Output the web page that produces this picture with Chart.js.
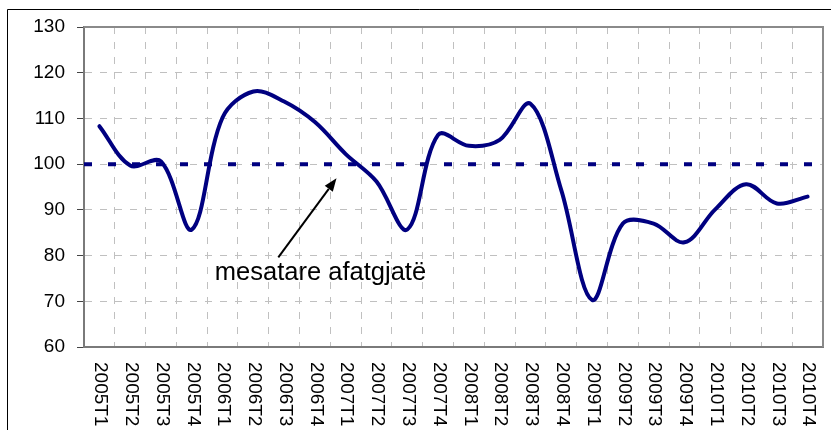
<!DOCTYPE html>
<html>
<head>
<meta charset="utf-8">
<script src="https://cdn.jsdelivr.net/npm/chart.js@4/dist/chart.umd.min.js"></script>
<style>
html,body{margin:0;padding:0;background:#fff;}
canvas{display:block;}
</style>
</head>
<body>
<canvas id="c" width="831" height="430"></canvas>
<script>
// ---- data ----
const quarters = ['2005T1','2005T2','2005T3','2005T4','2006T1','2006T2','2006T3','2006T4',
                  '2007T1','2007T2','2007T3','2007T4','2008T1','2008T2','2008T3','2008T4',
                  '2009T1','2009T2','2009T3','2009T4','2010T1','2010T2','2010T3','2010T4'];
const indexValues = [108.3, 99.7, 100.6, 85.7, 110.2, 115.9, 113.7, 109.2,
                     102.2, 96.2, 85.7, 106.4, 104.0, 105.3, 113.2, 94.3,
                     70.3, 87.0, 87.0, 82.9, 90.1, 95.6, 91.4, 92.9];
const longRunAverage = [100, 100];
const yTickValues = [60, 70, 80, 90, 100, 110, 120, 130];
const annotationLabel = 'mesatare afatgjatë';
// annotation anchor points in data units (quarter units on the x axis, index on y)
const arrowTail = {x: 6.31, y: 79.6};
const arrowTip = {x: 8.2, y: 96.9};
const labelAnchor = {x: 4.25, y: 74.65};

const FONT = '"Liberation Sans", Arial, sans-serif';

const decor = {
  id: 'decor',
  beforeDraw(chart) {
    const ctx = chart.ctx;
    ctx.save();
    ctx.fillStyle = '#fff';
    ctx.fillRect(0, 0, chart.width, chart.height);
    ctx.strokeStyle = '#000';
    ctx.lineWidth = 1;
    ctx.beginPath();
    ctx.moveTo(7.5, chart.height);
    ctx.lineTo(7.5, 9.5);
    ctx.lineTo(chart.width, 9.5);
    ctx.stroke();
    ctx.restore();
  },
  afterDraw(chart) {
    const ctx = chart.ctx;
    const a = chart.chartArea;
    const xs = chart.scales.x;
    const x2 = chart.scales.x2;
    const ys = chart.scales.y;
    ctx.save();
    // plot border (top & right)
    ctx.strokeStyle = '#8a8a8a';
    ctx.lineWidth = 2;
    ctx.beginPath();
    ctx.moveTo(a.left, a.top);
    ctx.lineTo(a.right, a.top);
    ctx.lineTo(a.right, a.bottom);
    ctx.stroke();
    // x labels, rotated clockwise (read top to bottom)
    ctx.fillStyle = '#000';
    ctx.font = '19px ' + FONT;
    ctx.textAlign = 'left';
    ctx.textBaseline = 'middle';
    quarters.forEach((q, i) => {
      const px = xs.getPixelForValue(i) + 1;
      ctx.save();
      ctx.translate(px, a.bottom + 15);
      ctx.rotate(Math.PI / 2);
      ctx.fillText(q, 0, 0);
      ctx.restore();
    });
    // annotation arrow
    const tx = x2.getPixelForValue(arrowTail.x), ty = ys.getPixelForValue(arrowTail.y);
    const hx = x2.getPixelForValue(arrowTip.x), hy = ys.getPixelForValue(arrowTip.y);
    const ang = Math.atan2(hy - ty, hx - tx);
    const headLen = 13, headW = 5;
    const bx = hx - headLen * Math.cos(ang), by = hy - headLen * Math.sin(ang);
    ctx.strokeStyle = '#000';
    ctx.lineWidth = 2;
    ctx.beginPath();
    ctx.moveTo(tx, ty);
    ctx.lineTo(bx, by);
    ctx.stroke();
    ctx.beginPath();
    ctx.moveTo(hx, hy);
    ctx.lineTo(bx + headW * Math.sin(ang), by - headW * Math.cos(ang));
    ctx.lineTo(bx - headW * Math.sin(ang), by + headW * Math.cos(ang));
    ctx.closePath();
    ctx.fill();
    // annotation text
    ctx.font = '25.5px ' + FONT;
    ctx.textAlign = 'left';
    ctx.textBaseline = 'alphabetic';
    ctx.fillText(annotationLabel, x2.getPixelForValue(labelAnchor.x), ys.getPixelForValue(labelAnchor.y));
    ctx.restore();
  }
};

new Chart(document.getElementById('c'), {
  type: 'line',
  data: {
    labels: quarters,
    datasets: [
      {
        data: indexValues,
        xAxisID: 'x',
        yAxisID: 'y',
        borderColor: '#000080',
        borderWidth: 4,
        tension: 0.35,
        pointRadius: 0,
        fill: false,
        borderCapStyle: 'round',
        borderJoinStyle: 'round'
      },
      {
        data: longRunAverage.map((v, i) => ({x: i * quarters.length, y: v})),
        xAxisID: 'x2',
        yAxisID: 'y',
        borderColor: '#000080',
        borderWidth: 4,
        borderDash: [8, 16],
        pointRadius: 0,
        fill: false,
        tension: 0
      }
    ]
  },
  options: {
    responsive: false,
    animation: false,
    devicePixelRatio: 1,
    layout: {padding: {left: 0, top: 27, right: 8, bottom: 0}},
    plugins: {legend: {display: false}, tooltip: {enabled: false}, title: {display: false}},
    scales: {
      x: {
        type: 'category',
        offset: true,
        grid: {
          offset: true,
          color: '#c0c0c0',
          lineWidth: 1,
          drawTicks: false
        },
        border: {display: true, color: '#7a7a7a', width: 2, dash: [7, 8]},
        ticks: {display: false},
        afterFit(s) { s.height = 83; }
      },
      x2: {
        type: 'linear',
        display: false,
        min: 0,
        max: quarters.length
      },
      y: {
        min: yTickValues[0],
        max: yTickValues[yTickValues.length - 1],
        afterBuildTicks(s) { s.ticks = yTickValues.map(v => ({value: v})); },
        grid: {
          color: '#c0c0c0',
          lineWidth: 1,
          drawTicks: true,
          tickLength: 7,
          tickColor: '#444',
          tickWidth: 1,
          tickBorderDash: []
        },
        border: {display: true, color: '#7a7a7a', width: 2, dash: [7, 8]},
        ticks: {
          color: '#000',
          font: {family: FONT, size: 19},
          padding: 12
        },
        afterFit(s) { s.width = 84; }
      }
    }
  },
  plugins: [decor]
});
</script>
</body>
</html>
